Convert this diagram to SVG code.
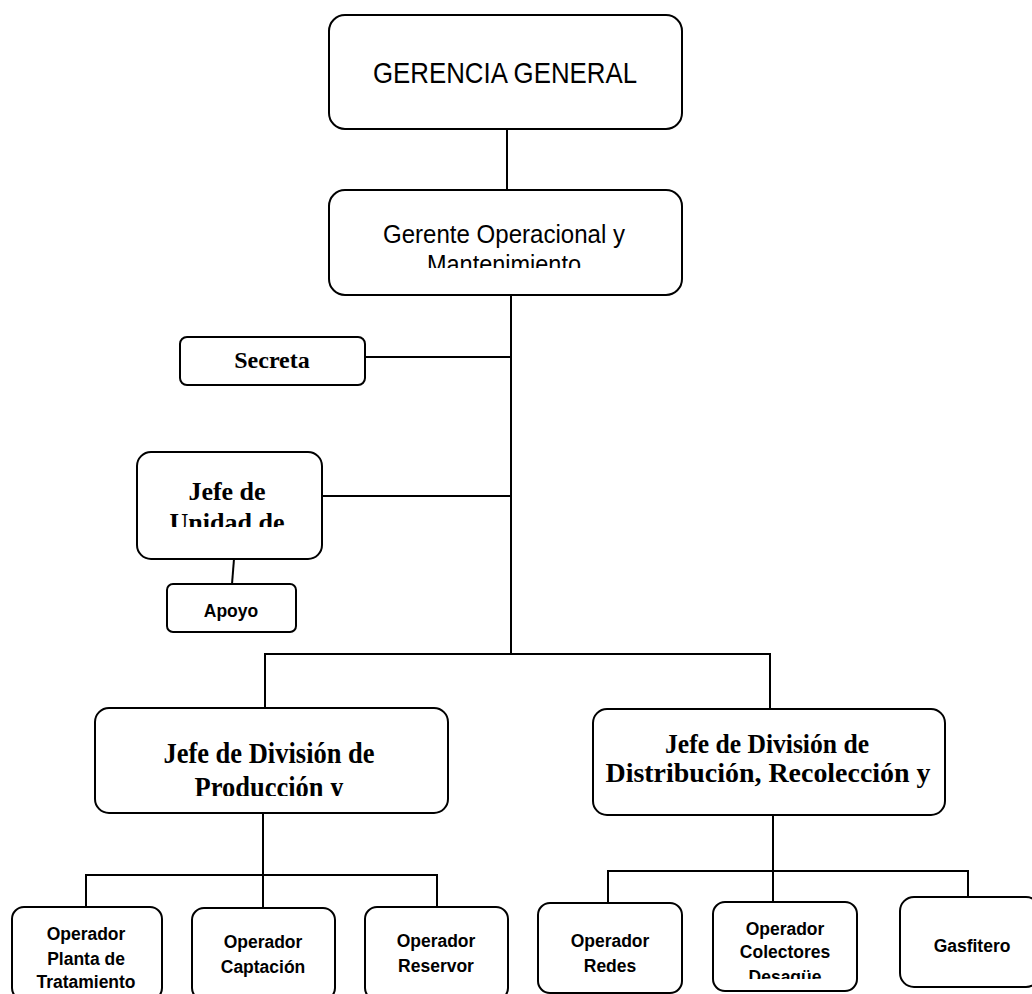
<svg xmlns="http://www.w3.org/2000/svg" width="1032" height="994" viewBox="0 0 1032 994">
  <style>
    .box { fill: #ffffff; stroke: #000000; stroke-width: 2; }
    .link { fill: none; stroke: #000000; stroke-width: 2; }
    .sans { font-family: "Liberation Sans", Arial, sans-serif; fill: #000000; text-anchor: middle; }
    .serifb { font-family: "Liberation Serif", "Times New Roman", serif; font-weight: bold; fill: #000000; text-anchor: middle; }
    .op { font-family: "Liberation Sans", Arial, sans-serif; font-weight: bold; font-size: 17.5px; fill: #000000; text-anchor: middle; }
  </style>
  <defs>
    <!-- text areas that cut off overflowing lines -->
    <clipPath id="clip-gerente"><rect x="330" y="192" width="350" height="76"/></clipPath>
    <clipPath id="clip-unidad"><rect x="139" y="454" width="181" height="73"/></clipPath>
    <clipPath id="clip-produccion"><rect x="97" y="710" width="349" height="86"/></clipPath>
    <clipPath id="clip-distribucion"><rect x="595" y="711" width="348" height="78"/></clipPath>
    <clipPath id="clip-colectores"><rect x="715" y="904" width="140" height="75"/></clipPath>
  </defs>

  <!-- connectors -->
  <g id="connectors">
    <line class="link" x1="507" y1="125" x2="507" y2="190"/>
    <line class="link" x1="511" y1="293" x2="511" y2="655"/>
    <line class="link" x1="365" y1="357" x2="511" y2="357"/>
    <line class="link" x1="320" y1="496" x2="511" y2="496"/>
    <line class="link" x1="234" y1="559" x2="232" y2="584"/>
    <polyline class="link" points="265,708 265,654 770,654 770,709"/>
    <line class="link" x1="263" y1="813" x2="263" y2="908"/>
    <polyline class="link" points="86,907 86,875 437,875 437,907"/>
    <line class="link" x1="773" y1="815" x2="773" y2="902"/>
    <polyline class="link" points="608,903 608,871 968,871 968,897"/>
  </g>

  <g id="gerencia-general">
    <rect class="box" x="329" y="15" width="353" height="114" rx="16"/>
    <text class="sans" x="505" y="83" font-size="30" textLength="264" lengthAdjust="spacingAndGlyphs">GERENCIA GENERAL</text>
  </g>

  <g id="gerente-operacional">
    <rect class="box" x="329" y="190" width="353" height="105" rx="16"/>
    <g clip-path="url(#clip-gerente)">
      <text class="sans" x="504" y="243" font-size="25" textLength="242" lengthAdjust="spacingAndGlyphs">Gerente Operacional y</text>
      <text class="sans" x="504" y="273" font-size="25" textLength="154" lengthAdjust="spacingAndGlyphs">Mantenimiento</text>
    </g>
  </g>

  <g id="secreta">
    <rect class="box" x="180" y="337" width="185" height="48" rx="7"/>
    <text class="serifb" x="272" y="368" font-size="24">Secreta</text>
  </g>

  <g id="jefe-unidad">
    <rect class="box" x="137" y="452" width="185" height="107" rx="14"/>
    <g clip-path="url(#clip-unidad)">
      <text class="serifb" x="227" y="500" font-size="26">Jefe de</text>
      <text class="serifb" x="227" y="531" font-size="26">Unidad de</text>
    </g>
  </g>

  <g id="apoyo">
    <rect class="box" x="167" y="584" width="129" height="48" rx="6"/>
    <text class="op" transform="translate(231,617) scale(1,1.1)" font-size="18">Apoyo</text>
  </g>

  <g id="jefe-produccion">
    <rect class="box" x="95" y="708" width="353" height="105" rx="14"/>
    <g clip-path="url(#clip-produccion)">
      <text class="serifb" transform="translate(269,763) scale(1,1.1)" font-size="26.5">Jefe de División de</text>
      <text class="serifb" transform="translate(269,797) scale(1,1.1)" font-size="26.5">Producción y</text>
    </g>
  </g>

  <g id="jefe-distribucion">
    <rect class="box" x="593" y="709" width="352" height="106" rx="14"/>
    <g clip-path="url(#clip-distribucion)">
      <text class="serifb" x="767" y="753" font-size="27.5" textLength="204" lengthAdjust="spacingAndGlyphs">Jefe de División de</text>
      <text class="serifb" x="768" y="782" font-size="27.5" textLength="325" lengthAdjust="spacingAndGlyphs">Distribución, Recolección y</text>
    </g>
  </g>

  <g id="operador-planta">
    <rect class="box" x="12" y="907" width="150" height="93" rx="12"/>
    <text class="op" transform="translate(86,940) scale(1,1.1)">Operador</text>
    <text class="op" transform="translate(86,965) scale(1,1.1)">Planta de</text>
    <text class="op" transform="translate(86,988) scale(1,1.1)">Tratamiento</text>
  </g>

  <g id="operador-captacion">
    <rect class="box" x="192" y="908" width="143" height="92" rx="12"/>
    <text class="op" transform="translate(263,948) scale(1,1.1)">Operador</text>
    <text class="op" transform="translate(263,973) scale(1,1.1)">Captación</text>
  </g>

  <g id="operador-reservor">
    <rect class="box" x="365" y="907" width="143" height="93" rx="12"/>
    <text class="op" transform="translate(436,947) scale(1,1.1)">Operador</text>
    <text class="op" transform="translate(436,972) scale(1,1.1)">Reservor</text>
  </g>

  <g id="operador-redes">
    <rect class="box" x="538" y="903" width="144" height="90" rx="12"/>
    <text class="op" transform="translate(610,947) scale(1,1.1)">Operador</text>
    <text class="op" transform="translate(610,972) scale(1,1.1)">Redes</text>
  </g>

  <g id="operador-colectores">
    <rect class="box" x="713" y="902" width="144" height="89" rx="12"/>
    <g clip-path="url(#clip-colectores)">
      <text class="op" transform="translate(785,935) scale(1,1.1)">Operador</text>
      <text class="op" transform="translate(785,958) scale(1,1.1)">Colectores</text>
      <text class="op" transform="translate(785,983) scale(1,1.1)">Desagüe</text>
    </g>
  </g>

  <g id="gasfitero">
    <rect class="box" x="900" y="897" width="140" height="90" rx="14"/>
    <text class="op" transform="translate(972,952) scale(1,1.1)">Gasfitero</text>
  </g>
</svg>
